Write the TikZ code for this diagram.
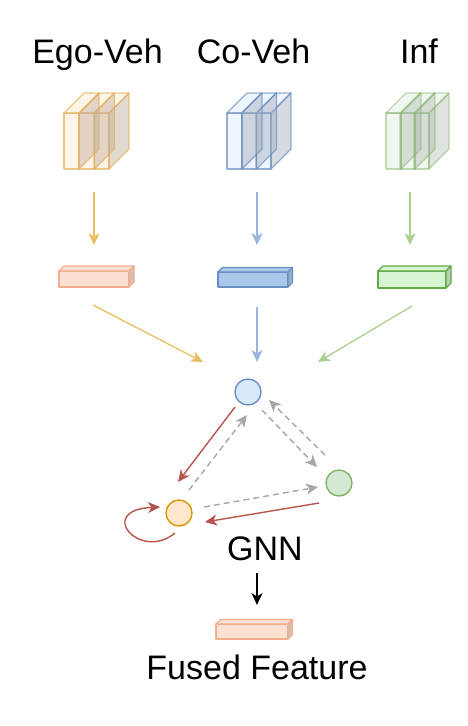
\documentclass[tikz,border=0pt]{standalone}
\usepackage{fontspec}
\setmainfont{Liberation Sans}
\usetikzlibrary{arrows.meta,calc}

\definecolor{egofill}{HTML}{FFE6CC}
\definecolor{egoline}{HTML}{E3B15A}
\definecolor{cofill}{HTML}{DAE8FC}
\definecolor{coline}{HTML}{6C8EBF}
\definecolor{inffill}{HTML}{D5E8D4}
\definecolor{infline}{HTML}{82B366}
\definecolor{egofeat}{HTML}{FCE1D2}
\definecolor{egofeatline}{HTML}{F2AE8C}
\definecolor{cofeat}{HTML}{A9C8EB}
\definecolor{cofeatline}{HTML}{6C8EBF}
\definecolor{inffeat}{HTML}{D8F5D2}
\definecolor{inffeatline}{HTML}{62A845}
\definecolor{egoarrow}{HTML}{E8BE5E}
\definecolor{coarrow}{HTML}{9AB4DD}
\definecolor{infarrow}{HTML}{AAD18F}
\definecolor{msgred}{HTML}{B85450}
\definecolor{msggray}{HTML}{A6A6A6}
\definecolor{egonode}{HTML}{D79B00}

% x, top, bottom, width, depth, fill, line, side
\newcommand{\cubebox}[8]{%
  \filldraw[fill=#6, draw=#7] (#1,#2) rectangle (#1+#4,#3);
  \filldraw[fill=#6, draw=#7] (#1,#2) -- ++(#5,-#5) -- ++(#4,0) -- (#1+#4,#2) -- cycle;
  \filldraw[fill=#8, draw=#7] (#1+#4,#2) -- ++(#5,-#5) -- ++(0,#3-#2) -- (#1+#4,#3) -- cycle;
}

\begin{document}
\begin{tikzpicture}[x=1pt,y=-1pt,line join=round,
                    >={Stealth[length=12pt,width=11pt,inset=3.5pt]}]
  \tikzstyle{lbl}=[font=\fontsize{34}{40}\selectfont,anchor=base,inner sep=0pt]
  \tikzstyle{agent}=[circle,draw,minimum size=26pt,inner sep=0pt,line width=1.4pt]
  \tikzstyle{flow}=[->,line width=1.3pt]
  \tikzstyle{msg}=[->,line width=1.4pt,msgred]
  \tikzstyle{query}=[->,line width=1.4pt,msggray,dash pattern=on 6pt off 4pt]

  \useasboundingbox (0,0) rectangle (468,726);

  % labels
  \node[lbl] (ego) at (97.5,63) {Ego-Veh};
  \node[lbl] (co)  at (253.5,63) {Co-Veh};
  \node[lbl] (inf) at (419,63) {Inf};

  % feature stacks
  \begin{scope}[fill opacity=.45,draw opacity=.7,line width=1.2pt]
    \foreach \x in {94,79.5,64}
      {\cubebox{\x}{113}{169}{15}{20}{egofill}{egoline}{black!25!egofill}}
    \foreach \x in {256,241.5,227}
      {\cubebox{\x}{113}{169}{15}{20}{cofill}{coline}{black!25!cofill}}
  \end{scope}
  \begin{scope}[fill opacity=.35,draw opacity=.5,line width=1.2pt]
    \foreach \x in {414,400,386}
      {\cubebox{\x}{113}{169}{15}{20}{inffill}{infline}{black!25!inffill}}
  \end{scope}

  % compressed features
  \begin{scope}[line width=1.1pt]
    \cubebox{59}{271}{287}{70}{5}{egofeat}{egofeatline}{black!15!egofeat}
    \cubebox{218}{272}{287}{70}{4.5}{cofeat}{cofeatline}{black!12!cofeat}
    \cubebox{378}{271}{288}{68}{5}{inffeat}{inffeatline}{black!15!inffeat}
    \cubebox{216}{624}{639}{72}{4.5}{egofeat}{egofeatline}{black!15!egofeat}
  \end{scope}

  \coordinate (egoS) at (94,192);   \coordinate (egoF) at (94,245);
  \coordinate (coS)  at (257,192);  \coordinate (coF)  at (257,245);
  \coordinate (infS) at (410,192);  \coordinate (infF) at (410,245);
  \coordinate (egoO) at (93,305);
  \coordinate (coO)  at (257,307);
  \coordinate (infO) at (412,306);

  % graph
  \node[agent,fill=cofill,draw=coline]    (B) at (248,392) {};
  \node[agent,fill=inffill,draw=infline]  (G) at (339,483) {};
  \node[agent,fill=egofill,draw=egonode]  (O) at (179,513) {};

  \node[lbl] (gnn)   at (265,560) {GNN};
  \node[lbl] (fused) at (257,679) {Fused Feature};
  \coordinate (fusedT) at (257,605);

  \draw[flow,egoarrow] (egoS) -- (egoF);
  \draw[flow,coarrow]  (coS)  -- (coF);
  \draw[flow,infarrow] (infS) -- (infF);
  \draw[flow,egoarrow] (egoO) -- ($(B)+(-45,-30)$);
  \draw[flow,coarrow]  (coO)  -- ($(B)+(9,-30)$);
  \draw[flow,infarrow] (infO) -- ($(B)+(70,-30)$);

  \draw[msg] ($(B)+(-13,15)$) -- ($(O)+(-1,-31)$);
  \draw[msg] ($(G)+(-20,20)$) -- ($(O)+(26,9)$);
  \draw[msg] ($(O)+(-4,20)$) .. controls ($(O)+(-39,49)$) and ($(O)+(-84,-3)$) .. ($(O)+(-19,-6)$);

  \draw[query] ($(O)+(10,-23)$) -- ($(B)+(-1,23)$);
  \draw[query] ($(B)+(14,18)$)  -- ($(G)+(-22,-16)$);
  \draw[query] ($(G)+(-14,-28)$) -- ($(B)+(21,8)$);
  \draw[query] ($(O)+(25,-6)$)  -- ($(G)+(-21,4)$);

  \draw[flow,black] ($(gnn.base)+(-8,13)$) -- (fusedT);
\end{tikzpicture}
\end{document}
